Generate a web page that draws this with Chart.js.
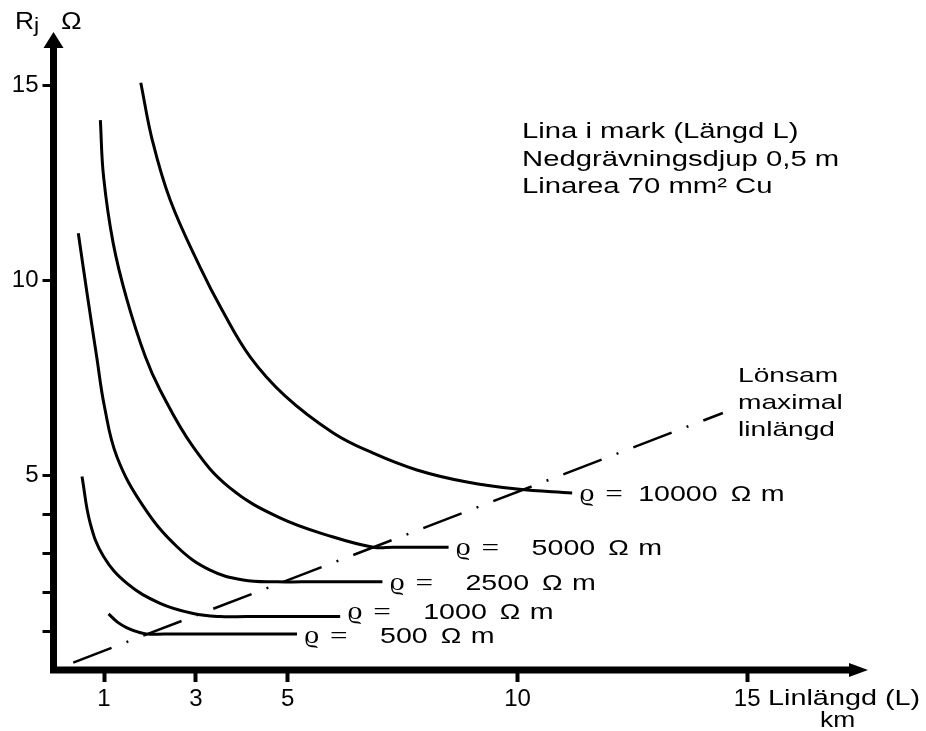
<!DOCTYPE html>
<html>
<head>
<meta charset="utf-8">
<script src="https://cdn.jsdelivr.net/npm/chart.js@4.4.0/dist/chart.umd.min.js"></script>
<style>
  html, body { margin: 0; padding: 0; background: #fff; }
  #wrap { width: 926px; height: 731px; position: relative; }
</style>
</head>
<body>
<div id="wrap"><canvas id="chart"></canvas></div>
<script>
// --- Data (x = line length in km, y = R_j in ohm) ---
const rho10000X = [1.80, 2.05, 2.44, 3.09, 3.57, 4.18, 4.94, 5.99, 6.86, 7.81, 8.90, 9.99, 11.19];
const rho10000Y = [15.06, 13.59, 12.05, 10.33, 9.23, 8.03, 7.03, 6.08, 5.56, 5.13, 4.82, 4.64, 4.54];

const rho5000X = [0.92, 0.99, 1.20, 1.50, 1.90, 2.22, 2.94, 3.74, 4.83, 5.99, 6.86, 7.30, 8.50];
const rho5000Y = [14.10, 12.65, 10.94, 9.49, 8.03, 7.18, 5.72, 4.67, 3.90, 3.41, 3.15, 3.15, 3.15];

const rho2500X = [0.44, 0.63, 0.84, 1.01, 1.28, 1.86, 2.59, 3.31, 4.03, 4.77, 5.30, 7.06];
const rho2500Y = [11.20, 9.66, 8.03, 6.75, 5.47, 4.19, 3.16, 2.56, 2.31, 2.26, 2.26, 2.26];

const rho1000X = [0.52, 0.70, 0.99, 1.50, 2.22, 2.94, 3.53, 4.10, 6.14];
const rho1000Y = [4.96, 3.76, 2.91, 2.22, 1.71, 1.45, 1.37, 1.37, 1.37];

const rho500X = [1.10, 1.30, 1.50, 1.75, 1.95, 2.30, 5.20];
const rho500Y = [1.44, 1.22, 1.08, 0.97, 0.92, 0.92, 0.92];

const rhoValues = ['10000', '5000', '2500', '1000', '500'];

// dash-dot line "Lönsam maximal linlängd"
const maxLineX = [0.33, 14.47];
const maxLineY = [0.19, 6.59];

const xTickValues = [1, 3, 5, 10, 15];
const yTickValues = [1, 2, 3, 4, 5, 10, 15];
const yLabelledTicks = [5, 10, 15];

const infoLines = ['Lina i mark (Längd L)', 'Nedgrävningsdjup 0,5 m', 'Linarea 70 mm² Cu'];
const maxLineNote = ['Lönsam', 'maximal', 'linlängd'];

const SANS = '"Liberation Sans", Arial, sans-serif';
const SERIF = '"Liberation Serif", "DejaVu Serif", serif';

function toPoints(xs, ys) {
    return xs.map((v, i) => ({ x: v, y: ys[i] }));
}

function curve(xs, ys) {
    return {
        data: toPoints(xs, ys),
        borderColor: '#000',
        borderWidth: 3,
        pointRadius: 0,
        fill: false,
        tension: 0.4
    };
}

// text stretched horizontally like the scanned figure
function stretchText(ctx, text, x, y, size, family, sx, align) {
    ctx.save();
    ctx.translate(x, y);
    ctx.scale(sx, 1);
    ctx.font = size + 'px ' + family;
    ctx.textAlign = align || 'left';
    ctx.textBaseline = 'alphabetic';
    ctx.fillText(text, 0, 0);
    const w = ctx.measureText(text).width * sx;
    ctx.restore();
    return w;
}

const figurePlugin = {
    id: 'figure',
    afterDraw(chart) {
        const { ctx, chartArea: a } = chart;
        ctx.save();
        ctx.fillStyle = '#000';
        ctx.strokeStyle = '#000';

        // axes with arrow heads
        ctx.lineWidth = 7;
        ctx.beginPath();
        ctx.moveTo(a.left, a.bottom + 3.5);
        ctx.lineTo(a.left, a.top + 14);
        ctx.moveTo(a.left - 3.5, a.bottom);
        ctx.lineTo(a.right - 16, a.bottom);
        ctx.stroke();

        ctx.beginPath();
        ctx.moveTo(a.left, a.top);
        ctx.lineTo(a.left - 10, a.top + 16);
        ctx.lineTo(a.left + 10, a.top + 16);
        ctx.closePath();
        ctx.fill();

        ctx.beginPath();
        ctx.moveTo(a.right, a.bottom);
        ctx.lineTo(a.right - 19, a.bottom - 7);
        ctx.lineTo(a.right - 19, a.bottom + 7);
        ctx.closePath();
        ctx.fill();

        // axis titles
        stretchText(ctx, 'R', 15, 29, 24, SANS, 1.1);
        stretchText(ctx, 'j', 34, 32, 21, SANS, 1.1);
        stretchText(ctx, 'Ω', 61, 29, 24, SANS, 1.15);
        stretchText(ctx, 'Linlängd (L)', 768, 705, 22, SANS, 1.31);
        stretchText(ctx, 'km', 820, 727, 22, SANS, 1.2);

        // info block
        infoLines.forEach((t, i) => {
            stretchText(ctx, t, 522, 138 + i * 27.5, 22, SANS, 1.33);
        });
        maxLineNote.forEach((t, i) => {
            stretchText(ctx, t, 738, 382 + i * 27, 21, SANS, 1.34);
        });

        // rho labels at the end of each curve
        const lift = [0, 0, 0, -6, 1];
        rhoValues.forEach((val, i) => {
            const meta = chart.getDatasetMeta(i);
            const last = meta.data[meta.data.length - 1];
            const px = last.x, py = last.y + 8 + lift[i];
            stretchText(ctx, 'ϱ', px + 7, py, 26, SERIF, 1.15);
            stretchText(ctx, '=', px + 33, py, 24, SERIF, 1.3);
            const numX = px + (val.length >= 5 ? 66 : 83);
            const w = stretchText(ctx, val, numX, py, 22, SANS, 1.3);
            const omX = numX + w + 13;
            stretchText(ctx, 'Ω', omX, py, 22, SANS, 1.25);
            stretchText(ctx, 'm', omX + 30, py, 22, SANS, 1.3);
        });

        ctx.restore();
    }
};

const datasets = [
    curve(rho10000X, rho10000Y),
    curve(rho5000X, rho5000Y),
    curve(rho2500X, rho2500Y),
    curve(rho1000X, rho1000Y),
    curve(rho500X, rho500Y),
    {
        data: toPoints(maxLineX, maxLineY),
        borderColor: '#000',
        borderWidth: 2.5,
        borderDash: [41, 16, 2, 16],
        pointRadius: 0,
        fill: false,
        tension: 0
    }
];

new Chart(document.getElementById('chart'), {
    type: 'line',
    data: { datasets: datasets },
    plugins: [figurePlugin],
    options: {
        responsive: true,
        maintainAspectRatio: false,
        animation: false,
        layout: { padding: { left: 0, top: 32, right: 58, bottom: 0 } },
        plugins: {
            legend: { display: false },
            tooltip: { enabled: false }
        },
        scales: {
            x: {
                type: 'linear',
                min: -0.1,
                max: 17.63,
                afterFit: (scale) => { scale.height = 61; },
                afterBuildTicks: (scale) => { scale.ticks = xTickValues.map(v => ({ value: v })); },
                border: { display: false },
                grid: {
                    drawOnChartArea: false,
                    drawTicks: true,
                    tickLength: 12,
                    tickWidth: 4,
                    tickColor: '#000'
                },
                ticks: {
                    color: '#000',
                    padding: 3,
                    maxRotation: 0,
                    autoSkip: false,
                    font: { family: SANS, size: 24 },
                    callback: (v) => String(v)
                }
            },
            y: {
                type: 'linear',
                min: 0,
                max: 16.36,
                afterFit: (scale) => { scale.width = 53.5; },
                afterBuildTicks: (scale) => { scale.ticks = yTickValues.map(v => ({ value: v })); },
                border: { display: false },
                grid: {
                    drawOnChartArea: false,
                    drawTicks: true,
                    tickLength: 11,
                    tickWidth: 3,
                    tickColor: '#000'
                },
                ticks: {
                    color: '#000',
                    padding: 4,
                    autoSkip: false,
                    font: { family: SANS, size: 24 },
                    callback: (v) => yLabelledTicks.includes(v) ? String(v) : ''
                }
            }
        }
    }
});
</script>
</body>
</html>
